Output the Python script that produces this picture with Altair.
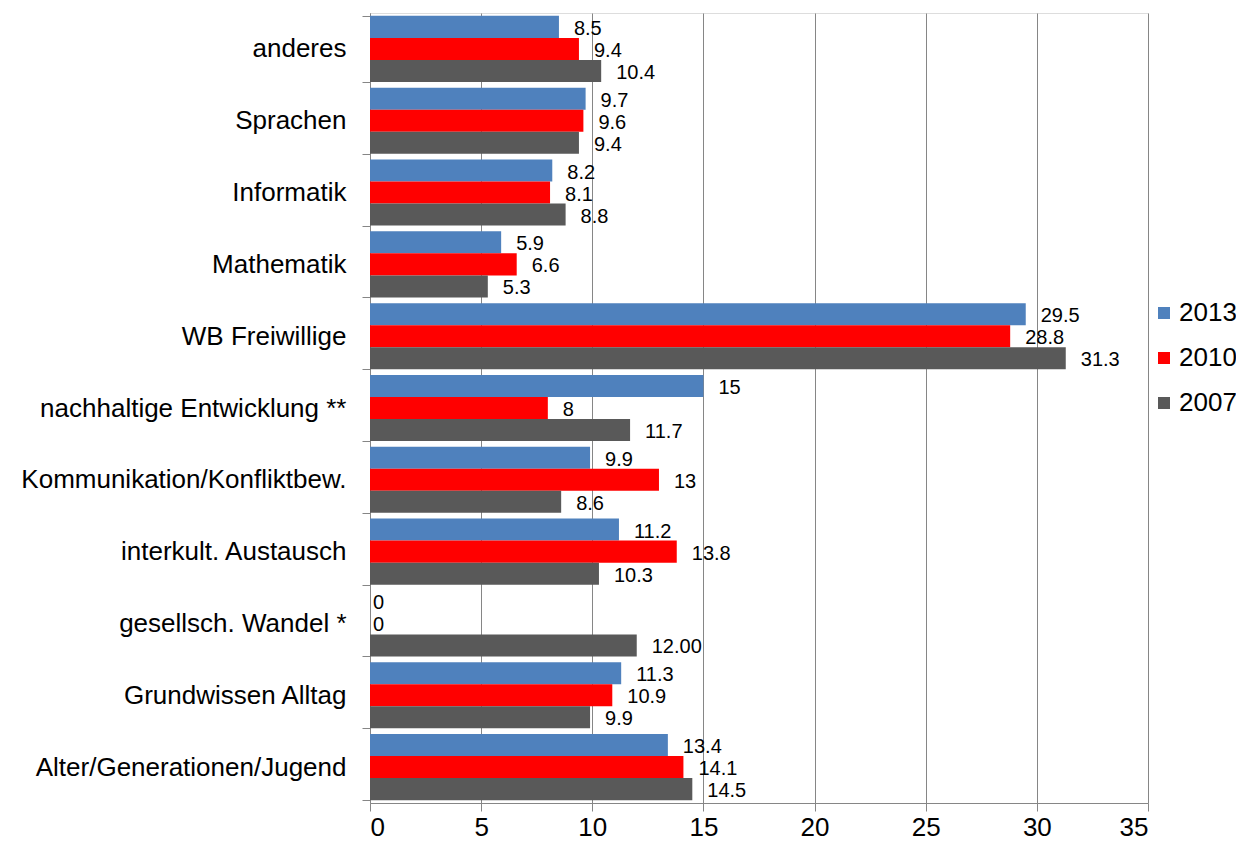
import altair as alt
import pandas as pd

categories = [
    "anderes", "Sprachen", "Informatik", "Mathematik", "WB Freiwillige",
    "nachhaltige Entwicklung **", "Kommunikation/Konfliktbew.",
    "interkult. Austausch", "gesellsch. Wandel *", "Grundwissen Alltag",
    "Alter/Generationen/Jugend",
]
series = ["2013", "2010", "2007"]
v2013 = [8.5, 9.7, 8.2, 5.9, 29.5, 15, 9.9, 11.2, 0, 11.3, 13.4]
v2010 = [9.4, 9.6, 8.1, 6.6, 28.8, 8, 13, 13.8, 0, 10.9, 14.1]
v2007 = [10.4, 9.4, 8.8, 5.3, 31.3, 11.7, 8.6, 10.3, 12.00, 9.9, 14.5]
l2013 = ["8.5", "9.7", "8.2", "5.9", "29.5", "15", "9.9", "11.2", "0", "11.3", "13.4"]
l2010 = ["9.4", "9.6", "8.1", "6.6", "28.8", "8", "13", "13.8", "0", "10.9", "14.1"]
l2007 = ["10.4", "9.4", "8.8", "5.3", "31.3", "11.7", "8.6", "10.3", "12.00", "9.9", "14.5"]
colors = ["#4F81BD", "#FF0000", "#595959"]

rows = []
for s, vals, labs in zip(series, [v2013, v2010, v2007], [l2013, l2010, l2007]):
    for c, v, l in zip(categories, vals, labs):
        rows.append({"Kategorie": c, "Jahr": s, "Wert": v, "Label": l})
df = pd.DataFrame(rows)

FONT = "Liberation Sans"

y_enc = alt.Y(
    "Kategorie:N", sort=categories, title=None,
    scale=alt.Scale(paddingInner=0.08, paddingOuter=0.04),
    axis=alt.Axis(
        tickBand="extent", labelFontSize=26, labelFont=FONT, labelColor="#000000",
        domainColor="#868686", tickColor="#868686", tickSize=8, labelPadding=16,
        grid=False, labelLimit=400,
    ),
)
yoff = alt.YOffset("Jahr:N", sort=series, scale=alt.Scale(paddingInner=0, paddingOuter=0))
x_enc = alt.X(
    "Wert:Q", title=None,
    scale=alt.Scale(domain=[0, 35], nice=False),
    axis=alt.Axis(
        values=[0, 5, 10, 15, 20, 25, 30, 35], labelFontSize=26, labelFont=FONT,
        labelColor="#000000", domainColor="#868686", tickColor="#868686", tickSize=8,
        gridColor="#868686", gridWidth=1, gridOpacity=1, labelPadding=3,
    ),
)

base = alt.Chart(df)

bars = base.mark_bar(stroke=None).encode(
    y=y_enc, yOffset=yoff, x=x_enc,
    color=alt.Color(
        "Jahr:N", sort=series,
        scale=alt.Scale(domain=series, range=colors),
        legend=alt.Legend(
            title=None, orient="none", legendX=781, legendY=287,
            labelFontSize=26, labelFont=FONT, labelColor="#000000",
            symbolType="square", symbolSize=144, symbolStrokeWidth=0,
            rowPadding=19, labelOffset=2,
        ),
    ),
)

texts = base.transform_filter("datum.Wert > 0").mark_text(
    align="left", baseline="middle", dx=15, dy=2, fontSize=20, font=FONT, color="#000000"
).encode(y=alt.Y("Kategorie:N", sort=categories), yOffset=alt.YOffset("Jahr:N", sort=series), x="Wert:Q", text="Label:N")

zeros = base.transform_filter("datum.Wert == 0").mark_text(
    align="left", baseline="middle", dx=3, dy=2, fontSize=20, font=FONT, color="#000000"
).encode(y=alt.Y("Kategorie:N", sort=categories), yOffset=alt.YOffset("Jahr:N", sort=series), x="Wert:Q", text="Label:N")

chart = alt.layer(bars, texts, zeros).properties(
    width=778, height=790,
    autosize=alt.AutoSizeParams(type="none"),
    padding={"left": 362, "top": 5, "right": 88, "bottom": 39},
).configure_view(stroke=None).configure(font=FONT)

chart.save("out.html", embed_options={"renderer": "svg", "actions": False})
